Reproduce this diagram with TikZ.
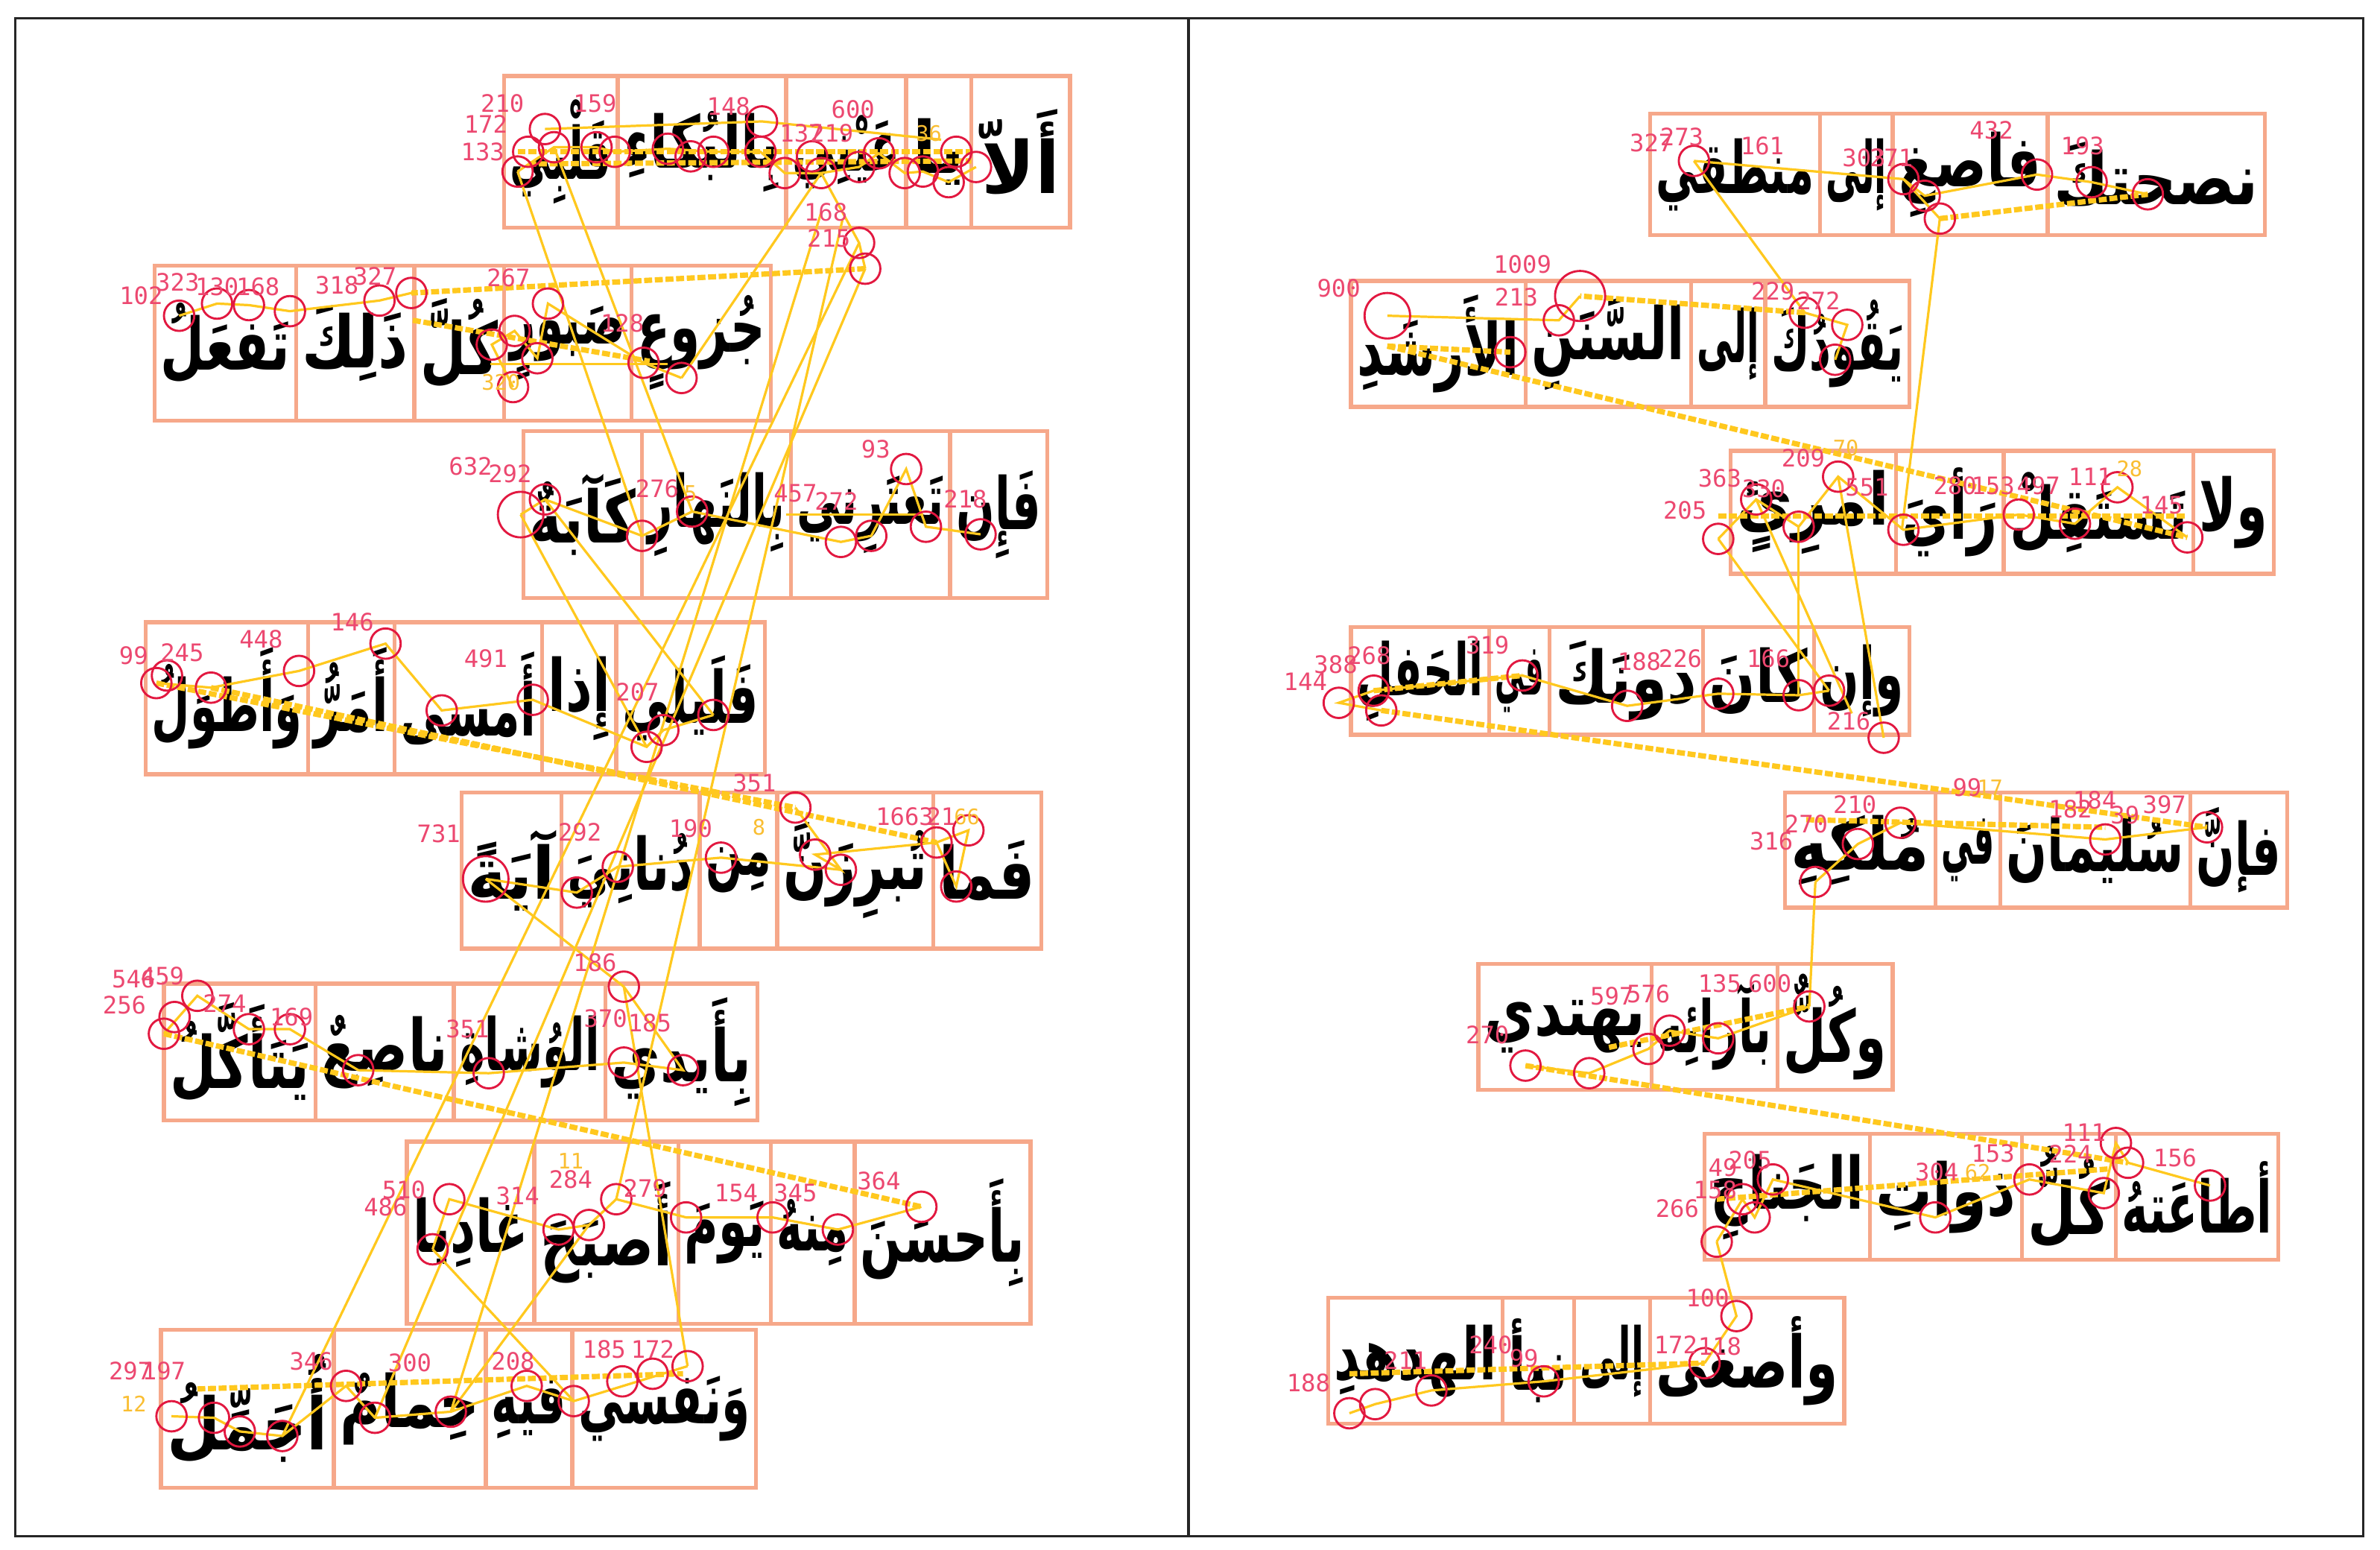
\documentclass[tikz,border=0pt]{standalone}
\usepackage{graphicx}
\usepackage{fontspec}
\newfontfamily\arabicfont[Script=Arabic]{DejaVu Sans}
\newfontfamily\numfont{DejaVu Sans Mono}
\TeXXeTstate=1
\definecolor{boxc}{RGB}{246,168,138}
\definecolor{scanc}{RGB}{255,200,30}
\definecolor{fixcol}{RGB}{226,24,64}
\definecolor{labr}{RGB}{236,72,112}
\definecolor{laby}{RGB}{250,190,50}
\tikzset{
 wordbox/.style={draw=boxc, line width=1.5pt},
 wordtxt/.style={inner sep=0pt, font=\arabicfont\bfseries\fontsize{27}{30}\selectfont, text=black},
 scan/.style={draw=scanc, line width=0.9pt},
 sweep/.style={draw=scanc, line width=2pt, dash pattern=on 3pt off 1pt},
 fixring/.style={draw=fixcol, line width=0.8pt},
 durlab/.style={text=labr, font=\numfont\fontsize{9}{9}\selectfont, inner sep=0pt},
 idxlab/.style={text=laby, font=\numfont\fontsize{8}{8}\selectfont, inner sep=0pt},
 frameline/.style={draw=black!85, line width=1pt}
}
\newsavebox\wsave
\newlength\targw
\newcommand\fitword[1]{\sbox\wsave{\beginR #1\endR}%
  \ifdim\wd\wsave>\targw \resizebox{\targw}{\ht\wsave}{\usebox\wsave}\else\usebox\wsave\fi}
\newcommand\wbox[6]{\draw[wordbox] (#2,#4) rectangle (#3,#5);
  \pgfmathsetlength\targw{(#3-#2-8)*0.02cm}%
  \node[wordtxt] (#1) at ({(#2+#3)/2},{(#4+#5)/2}) {\fitword{#6}};}
\newcommand\fx[3][0.2cm]{\draw[fixring] (#2,#3) circle[radius=#1];}
\newcommand\dl[3]{\node[durlab] at (#1,#2) {#3};}
\newcommand\yl[3]{\node[idxlab] at (#1,#2) {#3};}
\begin{document}
\begin{tikzpicture}[x=0.02cm,y=-0.02cm]
\useasboundingbox (0,0) rectangle (1568,1021);
\fill[white] (0,0) rectangle (1568,1021);
\draw[frameline] (10,12) rectangle (1557,1012);
\draw[frameline] (783,12) -- (783,1012);

% ---------- left panel words ----------
\wbox{a1}{640}{705}{50}{150}{أَلاّ}
\wbox{a2}{597}{640}{50}{150}{يا}
\wbox{a3}{518}{597}{50}{150}{عَيْنِي}
\wbox{a4}{407}{518}{50}{150}{بِالبُكاءِ}
\wbox{a5}{332}{407}{50}{150}{قَلْبِي}

\wbox{b1}{416}{508}{175}{277}{جُزوعٍ}
\wbox{b2}{332}{416}{175}{277}{صَبورٍ}
\wbox{b3}{273}{332}{175}{277}{كُلَّ}
\wbox{b4}{195}{273}{175}{277}{ذَلِكَ}
\wbox{b5}{102}{195}{175}{277}{تَفعَلُ}

\wbox{c1}{626}{690}{284}{394}{فَإِن}
\wbox{c2}{521}{626}{284}{394}{تَعتَرِني}
\wbox{c3}{423}{521}{284}{394}{بِالنَهارِ}
\wbox{c4}{345}{423}{284}{394}{كَآبَةٌ}

\wbox{d1}{406}{504}{410}{510}{فَلَيلي}
\wbox{d2}{357}{406}{410}{510}{إِذا}
\wbox{d3}{260}{357}{410}{510}{أَمسى}
\wbox{d4}{203}{260}{410}{510}{أَمَرُّ}
\wbox{d5}{96}{203}{410}{510}{وَأَطوَلُ}

\wbox{e1}{615}{686}{522}{625}{فَما}
\wbox{e2}{512}{615}{522}{625}{تُبرِزَنَّ}
\wbox{e3}{461}{512}{522}{625}{مِن}
\wbox{e4}{370}{461}{522}{625}{دُنانِيَ}
\wbox{e5}{304}{370}{522}{625}{آيَةً}

\wbox{f1}{399}{499}{648}{738}{بِأَيدي}
\wbox{f2}{299}{399}{648}{738}{الوُشاةِ}
\wbox{f3}{208}{299}{648}{738}{ناصِعٌ}
\wbox{f4}{108}{208}{648}{738}{يَتَأَكَّلُ}

\wbox{g1}{563}{679}{752}{872}{بِأَحسَنَ}
\wbox{g2}{508}{563}{752}{872}{مِنهُ}
\wbox{g3}{447}{508}{752}{872}{يَومَ}
\wbox{g4}{352}{447}{752}{872}{أَصبَحَ}
\wbox{g5}{268}{352}{752}{872}{غادِيا}

\wbox{h1}{377}{498}{876}{980}{وَنَفسي}
\wbox{h2}{320}{377}{876}{980}{فيهِ}
\wbox{h3}{220}{320}{876}{980}{حِمامٌ}
\wbox{h4}{106}{220}{876}{980}{أُجَمِّلُ}

% ---------- right panel words ----------
\wbox{p1}{1349}{1492}{75}{155}{نصحتكَ}
\wbox{p2}{1247}{1349}{75}{155}{فاصغِ}
\wbox{p3}{1199}{1247}{75}{155}{إلى}
\wbox{p4}{1087}{1199}{75}{155}{منطقي}

\wbox{q1}{1163}{1258}{185}{268}{يَقُودُكَ}
\wbox{q2}{1114}{1163}{185}{268}{إلى}
\wbox{q3}{1005}{1114}{185}{268}{السَّنَنِ}
\wbox{q4}{890}{1005}{185}{268}{الأَرشَدِ}

\wbox{r1}{1445}{1498}{297}{378}{ولا}
\wbox{r2}{1320}{1445}{297}{378}{تَستَقِلْ}
\wbox{r3}{1249}{1320}{297}{378}{رَأيَ}
\wbox{r4}{1140}{1249}{297}{378}{امرِئٍ}

\wbox{s1}{1195}{1258}{413}{484}{وإن}
\wbox{s2}{1122}{1195}{413}{484}{كانَ}
\wbox{s3}{1021}{1122}{413}{484}{دونَكَ}
\wbox{s4}{981}{1021}{413}{484}{في}
\wbox{s5}{890}{981}{413}{484}{الحَفلِ}

\wbox{t1}{1443}{1507}{522}{598}{فإنَّ}
\wbox{t2}{1318}{1443}{522}{598}{سُليمانَ}
\wbox{t3}{1275}{1318}{522}{598}{في}
\wbox{t4}{1176}{1275}{522}{598}{مُلكِهِ}

\wbox{u1}{1171}{1247}{635}{718}{وكُلٌّ}
\wbox{u2}{1088}{1171}{635}{718}{بآرائِه}
\wbox{u3}{974}{1088}{635}{718}{يهتدي}

\wbox{v1}{1394}{1501}{747}{830}{أطاعَتهُ}
\wbox{v2}{1332}{1394}{747}{830}{كُلُّ}
\wbox{v3}{1232}{1332}{747}{830}{ذواتِ}
\wbox{v4}{1123}{1232}{747}{830}{الجَناحِ}

\wbox{w1}{1087}{1215}{855}{938}{وأصغى}
\wbox{w2}{1037}{1087}{855}{938}{إلى}
\wbox{w3}{990}{1037}{855}{938}{نبأ}
\wbox{w4}{875}{990}{855}{938}{الهدهدِ}

% ---------- left scanpath ----------
\draw[scan] (643,110)--(625,120)--(608,113)--(596,114)--(579,101)--(566,110)--(541,114)--(517,114)--(501,100)--(470,100)--(440,98)--(405,100)--(393,97)--(365,97)--(341,113);
\draw[sweep] (341,100)--(640,100);
\draw[sweep] (348,108)--(640,106);
\draw[scan] (359,85)--(502,80)--(620,92);
\draw[scan] (541,114)--(566,160)--(570,177);
\draw[sweep] (570,177)--(271,193);
\draw[scan] (449,249)--(541,114);
\draw[scan] (449,249)--(424,239)--(361,200)--(354,236)--(339,218)--(324,227)--(338,255);
\draw[scan] (271,193)--(250,198)--(191,205)--(164,201)--(143,200)--(118,208);
\draw[sweep] (272,211)--(428,238);
\draw[scan] (323,240)--(440,240);
\draw[scan] (365,97)--(456,337);
\draw[scan] (341,113)--(423,353);
\draw[scan] (646,352)--(610,347)--(597,309)--(574,353)--(554,357)--(456,337)--(423,353)--(359,329)--(343,339);
\draw[scan] (518,339)--(608,339);
\draw[scan] (343,339)--(426,492);
\draw[scan] (359,329)--(470,471);
\draw[scan] (470,471)--(437,481)--(426,492)--(351,461)--(291,468)--(254,424)--(197,442)--(139,453)--(103,450);
\draw[sweep] (103,450)--(524,532);
\draw[sweep] (139,453)--(617,555);
\draw[scan] (524,532)--(554,573)--(537,563)--(617,555)--(630,584)--(638,547)--(617,555);
\draw[scan] (554,573)--(475,565)--(407,571)--(380,588)--(320,579);
\draw[scan] (320,579)--(411,650);
\draw[scan] (411,650)--(450,705)--(411,700)--(322,707)--(236,705)--(191,678)--(164,678)--(130,656)--(108,681);
\draw[sweep] (108,681)--(607,795);
\draw[scan] (607,795)--(552,810)--(509,802)--(452,802)--(406,790)--(388,807)--(368,810)--(296,790)--(285,823);
\draw[scan] (285,823)--(378,923);
\draw[scan] (388,807)--(297,930);
\draw[scan] (453,900)--(378,923)--(347,913)--(297,930)--(247,934)--(228,913)--(186,946)--(158,943)--(141,934)--(113,933);
\draw[sweep] (130,915)--(450,905);
% long regressions
\draw[scan] (566,160)--(186,946);
\draw[scan] (570,177)--(247,934);
\draw[scan] (541,140)--(297,930);
\draw[scan] (555,145)--(406,790);
\draw[scan] (411,650)--(453,900);

% ---------- right scanpath ----------
\draw[scan] (1415,128)--(1378,120)--(1342,115)--(1268,129)--(1254,118)--(1116,106);
\draw[sweep] (1278,144)--(1415,128);
\draw[scan] (1254,118)--(1278,144);
\draw[scan] (1116,106)--(1189,206);
\draw[scan] (1189,206)--(1217,214)--(1209,237);
\draw[sweep] (1189,206)--(1041,195);
\draw[scan] (1041,195)--(1027,211)--(914,208);
\draw[sweep] (914,228)--(995,232);
\draw[scan] (1278,144)--(1253,349);
\draw[sweep] (914,228)--(1441,354);
\draw[scan] (1441,354)--(1395,321)--(1367,345)--(1330,339)--(1254,349)--(1211,314)--(1185,347)--(1157,329)--(1132,355);
\draw[sweep] (1132,340)--(1441,340);
\draw[scan] (1132,355)--(1205,455);
\draw[scan] (1185,347)--(1185,458);
\draw[scan] (1211,314)--(1241,486);
\draw[scan] (1157,329)--(1220,470);
\draw[scan] (1205,455)--(1185,458)--(1132,457)--(1072,465)--(1003,445)--(905,455)--(882,463)--(910,468);
\draw[sweep] (905,455)--(1003,445);
\draw[sweep] (910,468)--(1454,545);
\draw[scan] (1454,545)--(1387,553)--(1252,542)--(1224,556)--(1196,581);
\draw[sweep] (1190,540)--(1387,545);
\draw[scan] (1196,581)--(1192,663);
\draw[scan] (1192,663)--(1132,684)--(1100,679)--(1086,691)--(1047,707)--(1005,702);
\draw[sweep] (1060,690)--(1192,663);
\draw[sweep] (1005,702)--(1402,766);
\draw[scan] (1456,781)--(1402,766)--(1394,753)--(1386,786)--(1337,777)--(1275,802)--(1168,777)--(1156,802)--(1148,790)--(1131,818);
\draw[sweep] (1131,790)--(1390,770);
\draw[scan] (1131,818)--(1144,867)--(1123,898);
\draw[scan] (1123,898)--(1017,910)--(943,916)--(906,925)--(889,931);
\draw[sweep] (889,905)--(1123,898);

% ---------- fixations left ----------
\foreach \p in {(643,110),(625,120),(608,113),(596,114),(579,101),(566,110),(541,114),(517,114),(502,80),(501,100),(470,100),(440,98),(405,100),(393,97),(365,97),(359,85),(341,113),(566,160),(570,177),(630,100),(348,100),(455,103),(535,103),
 (449,249),(424,239),(361,200),(354,236),(339,218),(324,227),(338,255),(271,193),(250,198),(191,205),(164,201),(143,200),(118,208),
 (646,352),(610,347),(597,309),(574,353),(554,357),(456,337),(423,353),(359,329),
 (470,471),(437,481),(426,492),(351,461),(291,468),(254,424),(197,442),(139,453),(103,450),(110,445),
 (524,532),(554,573),(537,563),(617,555),(630,584),(638,547),(475,565),(407,571),(380,588),
 (411,650),(450,705),(411,700),(322,707),(236,705),(191,678),(164,678),(130,656),(108,681),(115,670),
 (607,795),(552,810),(509,802),(452,802),(406,790),(388,807),(368,810),(296,790),(285,823),
 (453,900),(378,923),(347,913),(297,930),(247,934),(228,913),(186,946),(158,943),(141,934),(113,933),(430,905),(410,910)}
 {\draw[fixring] \p circle[radius=0.2cm];}
\fx[0.3cm]{343}{339}
\fx[0.3cm]{320}{579}

% ---------- fixations right ----------
\foreach \p in {(1116,106),(1254,118),(1268,129),(1278,144),(1342,115),(1378,120),(1415,128),
 (995,232),(1027,211),(1189,206),(1217,214),(1209,237),
 (1132,355),(1157,329),(1185,347),(1211,314),(1254,349),(1330,339),(1367,345),(1395,321),(1441,354),
 (882,463),(910,468),(905,455),(1003,445),(1072,465),(1132,457),(1185,458),(1205,455),(1241,486),
 (1196,581),(1224,556),(1252,542),(1387,553),(1454,545),
 (1192,663),(1132,684),(1100,679),(1086,691),(1047,707),(1005,702),
 (1456,781),(1402,766),(1394,753),(1386,786),(1337,777),(1275,802),(1168,777),(1156,802),(1148,790),(1131,818),
 (1144,867),(1123,898),(1017,910),(943,916),(906,925),(889,931)}
 {\draw[fixring] \p circle[radius=0.2cm];}
\fx[0.3cm]{914}{208}
\fx[0.33cm]{1041}{195}

% ---------- duration labels left ----------
\dl{331}{68}{210}\dl{392}{68}{159}\dl{320}{82}{172}\dl{318}{100}{133}\dl{480}{70}{148}\dl{562}{72}{600}
\dl{544}{140}{168}\dl{546}{157}{215}\dl{548}{88}{219}\dl{528}{88}{137}
\dl{93}{195}{102}\dl{117}{186}{323}\dl{143}{189}{130}\dl{170}{189}{168}\dl{222}{188}{318}\dl{247}{182}{327}\dl{335}{183}{267}\dl{410}{213}{128}
\dl{310}{307}{632}\dl{336}{312}{292}\dl{433}{322}{276}\dl{524}{325}{457}\dl{551}{330}{272}\dl{636}{329}{218}\dl{577}{296}{93}
\dl{88}{432}{99}\dl{120}{430}{245}\dl{172}{421}{448}\dl{232}{410}{146}\dl{320}{434}{491}\dl{420}{456}{207}\dl{497}{516}{351}
\dl{289}{549}{731}\dl{382}{548}{292}\dl{455}{546}{190}\dl{596}{538}{1663}\dl{620}{538}{21}
\dl{88}{645}{546}\dl{107}{643}{459}\dl{82}{662}{256}\dl{148}{661}{274}\dl{192}{670}{169}\dl{308}{678}{351}\dl{392}{634}{186}\dl{399}{671}{370}\dl{428}{674}{185}
\dl{579}{778}{364}\dl{524}{786}{345}\dl{485}{786}{154}\dl{425}{783}{279}\dl{376}{777}{284}\dl{341}{788}{314}\dl{266}{784}{510}\dl{254}{795}{486}
\dl{86}{903}{297}\dl{108}{903}{197}\dl{205}{897}{346}\dl{270}{898}{300}\dl{338}{897}{208}\dl{398}{889}{185}\dl{430}{889}{172}
\yl{637}{538}{66}\yl{88}{925}{12}\yl{330}{252}{320}\yl{376}{765}{11}\yl{612}{88}{36}\yl{500}{545}{8}\yl{455}{325}{5}

% ---------- duration labels right ----------
\dl{1088}{94}{327}\dl{1108}{90}{273}\dl{1161}{96}{161}\dl{1228}{104}{303}\dl{1246}{104}{271}\dl{1312}{86}{432}\dl{1372}{96}{193}
\dl{1003}{174}{1009}\dl{882}{190}{900}\dl{999}{196}{213}\dl{1168}{192}{229}\dl{1198}{198}{272}
\dl{1133}{315}{363}\dl{1162}{322}{330}\dl{1188}{302}{209}\dl{1110}{336}{205}\dl{1230}{321}{551}\dl{1288}{320}{280}\dl{1313}{320}{153}\dl{1343}{320}{497}\dl{1377}{314}{111}\dl{1424}{333}{145}
\dl{880}{438}{388}\dl{860}{449}{144}\dl{902}{432}{268}\dl{980}{425}{319}\dl{1080}{436}{188}\dl{1107}{434}{226}\dl{1165}{434}{166}\dl{1218}{475}{216}
\dl{1167}{554}{316}\dl{1190}{543}{270}\dl{1222}{530}{210}\dl{1296}{519}{99}\dl{1364}{533}{182}\dl{1380}{527}{184}\dl{1400}{537}{39}\dl{1426}{530}{397}
\dl{1133}{648}{135}\dl{1166}{648}{600}\dl{1062}{656}{597}\dl{1086}{655}{576}\dl{980}{682}{270}
\dl{1373}{746}{111}\dl{1364}{760}{224}\dl{1433}{763}{156}\dl{1313}{760}{153}\dl{1276}{772}{304}\dl{1105}{796}{266}\dl{1135}{769}{49}\dl{1153}{764}{205}\dl{1130}{784}{158}
\dl{1125}{855}{100}\dl{1104}{886}{172}\dl{1133}{887}{118}\dl{982}{886}{240}\dl{1004}{895}{99}\dl{926}{896}{211}\dl{862}{911}{188}
\yl{1403}{309}{28}\yl{1216}{295}{70}\yl{1311}{519}{17}\yl{1303}{772}{62}
\end{tikzpicture}
\end{document}
